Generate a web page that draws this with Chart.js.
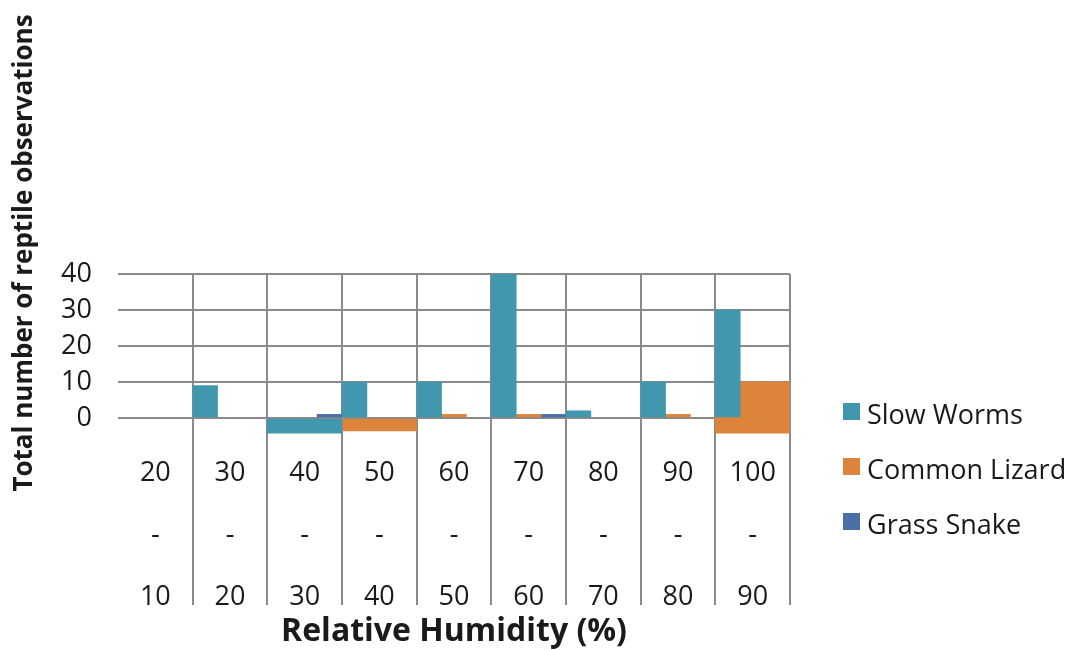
<!DOCTYPE html>
<html>
<head>
<meta charset="utf-8">
<script src="https://cdn.jsdelivr.net/npm/chart.js@4.4.1/dist/chart.umd.min.js"></script>
<style>
  body { margin: 0; background: #fff; }
  #wrap { position: relative; width: 1075px; height: 650px; }
  canvas { display: block; }
  #legend { position: absolute; left: 843px; top: 386px; font-family: "Open Sans", sans-serif; font-size: 27px; color: #1a1a1a; }
  #legend .item { display: flex; align-items: center; height: 55px; white-space: nowrap; }
  #legend .box { width: 17px; height: 17px; margin-right: 7px; margin-top: -4px; }
</style>
</head>
<body>
<div id="wrap">
  <canvas id="reptileChart" width="1075" height="650"></canvas>
  <div id="legend"></div>
</div>
<script>
const humidityBands = [
    ["20", "-", "10"], ["30", "-", "20"], ["40", "-", "30"],
    ["50", "-", "40"], ["60", "-", "50"], ["70", "-", "60"],
    ["80", "-", "70"], ["90", "-", "80"], ["100", "-", "90"]
];
// null = no bar drawn in that band
const slowWorms    = [null, 9, null, 10, 10, 40, 2, 10, 30];
const commonLizard = [null, null, null, null, 1, 1, null, 1, 10];
const grassSnake   = [null, null, 1, null, null, 1, null, null, null];
// the parts that run across the whole band (and below zero)
const slowWormsSpan = [null, null, [-4.2, 0], null, null, null, null, null, null];
const lizardSpan    = [null, null, null, [-3.6, 0], null, null, null, null, [-4.2, 10]];
const yTicks = [0, 10, 20, 30, 40];

const teal = "#4197ad";
const orange = "#dc843b";
const blue = "#4a6ea6";
const gridGrey = "#8a8a8a";
const textCol = "#1a1a1a";

// y axis title sits high up, not centred on the axis
const yTitle = {
    id: "yTitle",
    afterDraw(chart) {
        const ctx = chart.ctx;
        ctx.save();
        ctx.translate(25, 253);
        ctx.rotate(-Math.PI / 2);
        ctx.font = "bold 26px 'Open Sans'";
        ctx.fillStyle = textCol;
        ctx.textAlign = "center";
        ctx.textBaseline = "middle";
        ctx.fillText("Total number of reptile observations", 0, 0);
        ctx.restore();
    }
};

const bar = { barPercentage: 1, categoryPercentage: 1, borderWidth: 0 };
const bandLine = c => c.index === 0 ? "rgba(0,0,0,0)" : gridGrey;

const chart = new Chart(document.getElementById("reptileChart"), {
    type: "bar",
    data: {
        labels: humidityBands,
        datasets: [
            { ...bar, label: "Slow Worms", data: slowWorms, backgroundColor: teal, order: 0 },
            { ...bar, label: "Common Lizard", data: commonLizard, backgroundColor: orange, order: 0 },
            { ...bar, label: "Grass Snake", data: grassSnake, backgroundColor: blue, order: 0 },
            { ...bar, label: "sw span", data: slowWormsSpan, backgroundColor: teal, grouped: false, order: 1 },
            { ...bar, label: "cl span", data: lizardSpan, backgroundColor: orange, grouped: false, order: 1 }
        ]
    },
    options: {
        responsive: false,
        animation: false,
        layout: { padding: { top: 274, left: 0, right: 285, bottom: 0 } },
        plugins: {
            tooltip: { enabled: false },
            legend: { display: false }
        },
        scales: {
            x: {
                offset: true,
                grid: {
                    offset: true,
                    drawTicks: true,
                    tickLength: 169,
                    lineWidth: 2,
                    color: bandLine,
                    tickColor: bandLine
                },
                border: { display: false },
                ticks: {
                    color: textCol,
                    font: { family: "Open Sans", size: 27, lineHeight: 2.3 },
                    padding: -163,
                    maxRotation: 0,
                    autoSkip: false
                },
                title: {
                    display: true,
                    text: "Relative Humidity (%)",
                    color: textCol,
                    font: { family: "Open Sans", weight: "bold", size: 32 },
                    padding: { top: 0, bottom: -1 }
                },
                afterFit: s => { s.height = 214; }
            },
            y: {
                min: -5,
                max: 40,
                afterBuildTicks: s => { s.ticks = yTicks.map(v => ({ value: v })); },
                grid: { drawTicks: false, lineWidth: 2, color: gridGrey },
                border: { display: false },
                ticks: { color: textCol, font: { family: "Open Sans", size: 27 }, padding: 26 },
                afterFit: s => { s.width = 118; }
            }
        }
    },
    plugins: [yTitle]
});

// legend in html, built from the first three datasets
const legendEl = document.getElementById("legend");
chart.data.datasets.slice(0, 3).forEach(ds => {
    const item = document.createElement("div");
    item.className = "item";
    const box = document.createElement("span");
    box.className = "box";
    box.style.background = ds.backgroundColor;
    const txt = document.createElement("span");
    txt.textContent = ds.label;
    item.appendChild(box);
    item.appendChild(txt);
    legendEl.appendChild(item);
});
</script>
</body>
</html>
